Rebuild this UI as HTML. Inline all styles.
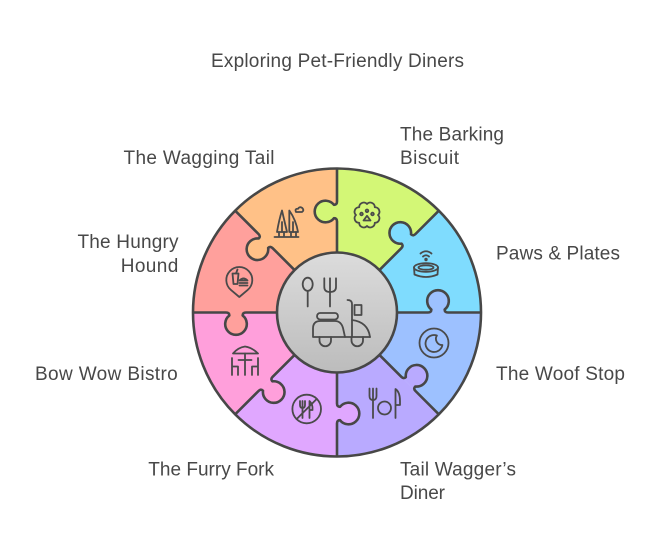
<!DOCTYPE html>
<html>
<head>
<meta charset="utf-8">
<style>
  html,body{margin:0;padding:0;background:#fff;}
  svg{display:block;}
  text{font-family:"Liberation Sans","DejaVu Sans",sans-serif;font-size:19px;fill:#484848;}
</style>
</head>
<body>
<svg width="662" height="554" viewBox="0 0 662 554" xmlns="http://www.w3.org/2000/svg">
  <defs>
    <linearGradient id="cg" x1="0" y1="0" x2="0" y2="1">
      <stop offset="0" stop-color="#dcdcdc"/>
      <stop offset="1" stop-color="#bcbcbc"/>
    </linearGradient>
  </defs>
  <rect width="662" height="554" fill="#ffffff"/>

  <!-- sectors -->
  <g stroke="none">
    <path d="M337 312.5 L337 168.5 A144 144 0 0 1 438.82 210.68 Z" fill="#d3f776"/>
    <path d="M337 312.5 L337 168.5 A144 144 0 0 1 438.82 210.68 Z" fill="#7fdcfe" transform="rotate(45 337 312.5)"/>
    <path d="M337 312.5 L337 168.5 A144 144 0 0 1 438.82 210.68 Z" fill="#9dc1ff" transform="rotate(90 337 312.5)"/>
    <path d="M337 312.5 L337 168.5 A144 144 0 0 1 438.82 210.68 Z" fill="#b9aaff" transform="rotate(135 337 312.5)"/>
    <path d="M337 312.5 L337 168.5 A144 144 0 0 1 438.82 210.68 Z" fill="#e0a7ff" transform="rotate(180 337 312.5)"/>
    <path d="M337 312.5 L337 168.5 A144 144 0 0 1 438.82 210.68 Z" fill="#ff9fdb" transform="rotate(225 337 312.5)"/>
    <path d="M337 312.5 L337 168.5 A144 144 0 0 1 438.82 210.68 Z" fill="#ffa09c" transform="rotate(270 337 312.5)"/>
    <path d="M337 312.5 L337 168.5 A144 144 0 0 1 438.82 210.68 Z" fill="#ffc187" transform="rotate(315 337 312.5)"/>
  </g>

  <!-- knobs -->
  <g stroke="none">
    <path d="M337 221.5 Q337 218.1 334 218.16 A10.8 10.8 0 1 1 334 204.84 Q337 204.9 337 201.5 Z" fill="#d3f776"/>
    <path d="M337 221.5 Q337 218.1 334 218.16 A10.8 10.8 0 1 1 334 204.84 Q337 204.9 337 201.5 Z" fill="#7fdcfe" transform="rotate(45 337 312.5)"/>
    <path d="M337 221.5 Q337 218.1 334 218.16 A10.8 10.8 0 1 1 334 204.84 Q337 204.9 337 201.5 Z" fill="#9dc1ff" transform="rotate(90 337 312.5)"/>
    <path d="M337 221.5 Q337 218.1 334 218.16 A10.8 10.8 0 1 1 334 204.84 Q337 204.9 337 201.5 Z" fill="#b9aaff" transform="rotate(135 337 312.5)"/>
    <path d="M337 221.5 Q337 218.1 334 218.16 A10.8 10.8 0 1 1 334 204.84 Q337 204.9 337 201.5 Z" fill="#e0a7ff" transform="rotate(180 337 312.5)"/>
    <path d="M337 221.5 Q337 218.1 334 218.16 A10.8 10.8 0 1 1 334 204.84 Q337 204.9 337 201.5 Z" fill="#ff9fdb" transform="rotate(225 337 312.5)"/>
    <path d="M337 221.5 Q337 218.1 334 218.16 A10.8 10.8 0 1 1 334 204.84 Q337 204.9 337 201.5 Z" fill="#ffa09c" transform="rotate(270 337 312.5)"/>
    <path d="M337 221.5 Q337 218.1 334 218.16 A10.8 10.8 0 1 1 334 204.84 Q337 204.9 337 201.5 Z" fill="#ffc187" transform="rotate(315 337 312.5)"/>
  </g>

  <!-- boundaries -->
  <g fill="none" stroke="#474747" stroke-width="2.6" stroke-linejoin="round">
    <path d="M337 252.5 L337 221.5 Q337 218.1 334 218.16 A10.8 10.8 0 1 1 334 204.84 Q337 204.9 337 201.5 L337 168.5"/>
    <path d="M337 252.5 L337 221.5 Q337 218.1 334 218.16 A10.8 10.8 0 1 1 334 204.84 Q337 204.9 337 201.5 L337 168.5" transform="rotate(45 337 312.5)"/>
    <path d="M337 252.5 L337 221.5 Q337 218.1 334 218.16 A10.8 10.8 0 1 1 334 204.84 Q337 204.9 337 201.5 L337 168.5" transform="rotate(90 337 312.5)"/>
    <path d="M337 252.5 L337 221.5 Q337 218.1 334 218.16 A10.8 10.8 0 1 1 334 204.84 Q337 204.9 337 201.5 L337 168.5" transform="rotate(135 337 312.5)"/>
    <path d="M337 252.5 L337 221.5 Q337 218.1 334 218.16 A10.8 10.8 0 1 1 334 204.84 Q337 204.9 337 201.5 L337 168.5" transform="rotate(180 337 312.5)"/>
    <path d="M337 252.5 L337 221.5 Q337 218.1 334 218.16 A10.8 10.8 0 1 1 334 204.84 Q337 204.9 337 201.5 L337 168.5" transform="rotate(225 337 312.5)"/>
    <path d="M337 252.5 L337 221.5 Q337 218.1 334 218.16 A10.8 10.8 0 1 1 334 204.84 Q337 204.9 337 201.5 L337 168.5" transform="rotate(270 337 312.5)"/>
    <path d="M337 252.5 L337 221.5 Q337 218.1 334 218.16 A10.8 10.8 0 1 1 334 204.84 Q337 204.9 337 201.5 L337 168.5" transform="rotate(315 337 312.5)"/>
    <circle cx="337" cy="312.5" r="144"/>
  </g>

  <!-- center circle -->
  <circle cx="337" cy="312.5" r="60" fill="url(#cg)" stroke="#474747" stroke-width="2.6"/>

  <!-- icons -->
  <g fill="none" stroke="#4a4a4a" stroke-width="1.8" stroke-linecap="round" stroke-linejoin="round">
    <!-- center: spoon, fork, scooter -->
    <ellipse cx="307.7" cy="284.3" rx="5" ry="6.6"/>
    <path d="M307.7 291 L307.7 306.5"/>
    <path d="M324.3 278.3 L324.3 287 Q324.3 292 330 292 Q336 292 336 287 L336 278.3"/>
    <path d="M330 278.3 L330 306.5"/>
    <rect x="317" y="313" width="21" height="6.5" rx="3.2"/>
    <path d="M313 337 L313 328.5 Q313 321 320.5 321 L335 321 Q341 321 343 328 L345 337 Z"/>
    <path d="M345 337 L370 337"/>
    <path d="M352 337 L352 304 Q352 300 347.5 300"/>
    <path d="M352 320 Q368 322 370 337"/>
    <rect x="354.5" y="305" width="7" height="10"/>
    <path d="M319.5 337 L319.5 340.5 A5.75 5.75 0 0 0 331 340.5 L331 337"/>
    <path d="M351.5 337 L351.5 340.5 A5.75 5.75 0 0 0 363 340.5 L363 337"/>

    <!-- green: flower + paw -->
    <path d="M378 215 A4.5 4.5 0 0 1 374.78 222.78 A4.5 4.5 0 0 1 367 226 A4.5 4.5 0 0 1 359.22 222.78 A4.5 4.5 0 0 1 356 215 A4.5 4.5 0 0 1 359.22 207.22 A4.5 4.5 0 0 1 367 204 A4.5 4.5 0 0 1 374.78 207.22 A4.5 4.5 0 0 1 378 215 Z"/>
    <circle cx="361.5" cy="214" r="1.3"/>
    <circle cx="367" cy="210.8" r="1.3"/>
    <circle cx="372.5" cy="214" r="1.3"/>
    <path d="M363.5 220.5 L367 215.8 L370.5 220.5 Z"/>

    <!-- cyan: bowl with wifi -->
    <circle cx="426" cy="259.5" r="0.8"/>
    <path d="M423 256.5 Q426 254 429 256.5"/>
    <path d="M420.5 253.5 Q426 249 431.5 253.5"/>
    <ellipse cx="426" cy="267.5" rx="12" ry="4.3"/>
    <ellipse cx="426" cy="267.5" rx="7.5" ry="2.2"/>
    <path d="M414 267.5 L414.5 274.5 Q426 279.5 437.5 274.5 L438 267.5"/>

    <!-- blue: moon in circle -->
    <circle cx="434" cy="343" r="14.5"/>
    <path d="M436.9 335.5 A8.5 8.5 0 1 0 442.4 345 A6.2 6.2 0 0 1 436.9 335.5 Z"/>

    <!-- purple: fork plate knife -->
    <path d="M369.5 388.5 L369.5 396 Q369.5 400 373 400 Q376.5 400 376.5 396 L376.5 388.5"/>
    <path d="M373 388.5 L373 418"/>
    <circle cx="384.5" cy="408" r="6.5"/>
    <path d="M395.5 418 L395.5 389 Q400 392 400 401 L400 405 L395.5 405"/>

    <!-- violet: no utensils -->
    <circle cx="306.7" cy="409" r="14.3"/>
    <path d="M316.8 398.9 L296.6 419.1"/>
    <path d="M300 401 L300 405 Q300 408 302.5 408 Q305 408 305 405 L305 401"/>
    <path d="M302.5 401 L302.5 418"/>
    <path d="M309.5 418 L309.5 401 Q313 404 312.5 410 L309.5 410"/>

    <!-- pink: table with umbrella -->
    <path d="M233 353.5 Q238 347.5 245 346.5 Q252 347.5 258 353.5 Z"/>
    <path d="M245 353.5 L245 375"/>
    <path d="M238.5 360 L251.5 360"/>
    <path d="M232 358 L232 375 M232 366.5 L238 366.5 L238 375"/>
    <path d="M258 358 L258 375 M258 366.5 L252 366.5 L252 375"/>

    <!-- salmon: pin with food -->
    <path d="M239.3 297 L230.93 289.95 A13 13 0 1 1 247.67 289.95 Z"/>
    <path d="M232.5 273.5 L233.5 284 L237.5 284 L238.5 273.5 Z"/>
    <path d="M236 273.5 L237.5 269.5"/>
    <path d="M239.5 280.5 Q243.5 276.5 247.5 280.5 Z"/>
    <path d="M239.5 283 L247.5 283"/>
    <path d="M239.5 285.5 L247.5 285.5"/>

    <!-- orange: sailboats -->
    <path d="M277 232 Q279 220 282 210.5 L287 232 Z"/>
    <path d="M289.3 210.5 Q296 220 298 232 L289.3 232 Z"/>
    <path d="M282 222 L282 232 M293 222 L293 232"/>
    <path d="M279 232 L279 236 M284 232 L284 236 M291 232 L291 236 M296 232 L296 236"/>
    <path d="M274.5 237 L298.5 237"/>
    <path d="M296 212 Q294.5 208.5 298 208.8 Q299.5 206 302.3 208 Q304.5 210.5 302 212 Z"/>
  </g>

  <!-- labels -->
  <text x="211" y="67" textLength="253">Exploring Pet-Friendly Diners</text>
  <text x="400" y="140.5" textLength="104">The Barking</text>
  <text x="400" y="164" textLength="59">Biscuit</text>
  <text x="123.5" y="164" textLength="151">The Wagging Tail</text>
  <text x="77.5" y="248" textLength="101">The Hungry</text>
  <text x="120.7" y="272" textLength="57.6">Hound</text>
  <text x="496" y="259.5" textLength="124">Paws &amp; Plates</text>
  <text x="35" y="380" textLength="142.7">Bow Wow Bistro</text>
  <text x="496" y="380" textLength="129">The Woof Stop</text>
  <text x="148.3" y="475.5" textLength="125.7">The Furry Fork</text>
  <text x="400" y="475.5" textLength="116">Tail Wagger’s</text>
  <text x="400" y="499" textLength="45">Diner</text>
</svg>
</body>
</html>
